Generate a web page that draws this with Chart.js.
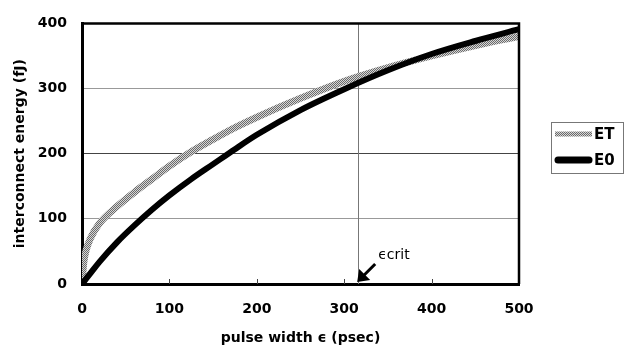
<!DOCTYPE html>
<html lang="en">
<head>
    <meta charset="UTF-8">
    <title>interconnect energy vs pulse width</title>
    <script src="https://cdn.jsdelivr.net/npm/chart.js@4"></script>
    <style>
        html, body { margin: 0; padding: 0; background: #fff; }
    </style>
</head>
<body>
    <canvas id="chartEnergy" width="632" height="352"></canvas>
    <script>
        // valeurs
        const pulseWidth = [0, 2, 5, 10, 20, 40, 60, 80, 100, 125, 150, 175, 200, 250, 300, 350, 400, 450, 500];
        const energyET = [0, 33, 53, 71, 93, 119, 141, 161, 181, 203, 222, 240, 256, 285, 311, 332, 350, 366, 380];
        const energyE0 = [0, 3.4, 8.5, 17, 34, 64, 90, 114, 136, 161, 184, 207, 229, 267, 299, 328, 353, 373, 391];
        const seriesNames = ['ET', 'E0'];
        const xTicks = [0, 100, 200, 300, 400, 500];
        const yTicks = [0, 100, 200, 300, 400];
        const critWidth = 316;
        const critLabel = 'ϵcrit';

        const FONT = '"DejaVu Sans", sans-serif';
        const canvas = document.getElementById('chartEnergy');
        const ctx = canvas.getContext('2d');

        // motif gris hachuré pour ET
        const tile = document.createElement('canvas');
        tile.width = 2; tile.height = 2;
        const t = tile.getContext('2d');
        t.fillStyle = '#d6d6d6'; t.fillRect(0, 0, 2, 2);
        t.fillStyle = '#6a6a6a'; t.fillRect(0, 0, 1, 1); t.fillRect(1, 1, 1, 1);
        const grayPattern = ctx.createPattern(tile, 'repeat');

        const toPoints = (ys) => pulseWidth.map((x, i) => ({ x: x, y: ys[i] }));

        const decorations = {
            id: 'decorations',
            beforeDatasetsDraw(chart) {
                const c = chart.ctx, a = chart.chartArea;
                const xs = chart.scales.x;
                c.save();
                // ligne verticale epsilon crit
                const xc = Math.round(xs.getPixelForValue(critWidth)) + 0.5;
                c.strokeStyle = '#777'; c.lineWidth = 1;
                c.beginPath(); c.moveTo(xc, a.top); c.lineTo(xc, a.bottom); c.stroke();
                // petites graduations vers l'intérieur
                c.strokeStyle = '#444';
                xTicks.slice(1, -1).forEach(v => {
                    const px = Math.round(xs.getPixelForValue(v)) + 0.5;
                    c.beginPath(); c.moveTo(px, a.bottom); c.lineTo(px, a.bottom - 5); c.stroke();
                });
                c.restore();
            },
            afterDatasetsDraw(chart) {
                const c = chart.ctx, a = chart.chartArea;
                const xs = chart.scales.x;
                c.save();
                // cadre
                c.strokeStyle = '#000'; c.lineWidth = 2.5;
                c.beginPath();
                c.moveTo(a.left, a.top); c.lineTo(a.right, a.top); c.lineTo(a.right, a.bottom);
                c.stroke();
                // flèche vers epsilon crit
                const tipX = xs.getPixelForValue(critWidth) - 1, tipY = a.bottom - 2;
                const tailX = tipX + 18, tailY = tipY - 18;
                c.strokeStyle = '#000'; c.fillStyle = '#000'; c.lineWidth = 3;
                c.beginPath(); c.moveTo(tailX, tailY); c.lineTo(tipX + 6, tipY - 6); c.stroke();
                c.beginPath();
                c.moveTo(tipX, tipY);
                c.lineTo(tipX + 2, tipY - 13);
                c.lineTo(tipX + 13, tipY - 2);
                c.closePath(); c.fill();
                c.font = '14px ' + FONT;
                c.textBaseline = 'middle'; c.textAlign = 'left';
                c.fillText(critLabel, tipX + 21, tipY - 27);
                // légende
                c.strokeStyle = '#777'; c.lineWidth = 1;
                c.strokeRect(551.5, 122.5, 72, 51);
                const styles = chart.data.datasets;
                [134, 160].forEach((y, i) => {
                    c.strokeStyle = styles[i].borderColor;
                    c.lineWidth = i === 0 ? 5 : 7;
                    c.lineCap = i === 0 ? 'butt' : 'round';
                    c.beginPath(); c.moveTo(i === 0 ? 555 : 558, y); c.lineTo(i === 0 ? 592 : 589, y); c.stroke();
                    c.fillStyle = '#000';
                    c.font = 'bold 15px ' + FONT;
                    c.fillText(seriesNames[i], 594, y + 1);
                });
                c.restore();
            }
        };

        new Chart(ctx, {
            type: 'line',
            data: {
                datasets: [{
                    label: seriesNames[0],
                    data: toPoints(energyET),
                    borderColor: grayPattern,
                    borderWidth: 7,
                    pointRadius: 0,
                    cubicInterpolationMode: 'monotone',
                    order: 2
                }, {
                    label: seriesNames[1],
                    data: toPoints(energyE0),
                    borderColor: '#000',
                    borderWidth: 6,
                    pointRadius: 0,
                    cubicInterpolationMode: 'monotone',
                    order: 1
                }]
            },
            options: {
                responsive: false,
                animation: false,
                devicePixelRatio: 1,
                layout: { padding: { top: 11, right: 113, left: 0, bottom: 0 } },
                plugins: { legend: { display: false }, tooltip: { enabled: false } },
                scales: {
                    x: {
                        type: 'linear', min: 0, max: 500,
                        afterBuildTicks: (s) => { s.ticks = xTicks.map(v => ({ value: v })); },
                        afterFit: (s) => { s.height = 68; },
                        ticks: { color: '#000', padding: 17, maxRotation: 0, font: { family: FONT, size: 14, weight: 'bold' } },
                        grid: { display: false, drawTicks: false },
                        border: { color: '#000', width: 3 },
                        title: {
                            display: true, text: 'pulse width ϵ (psec)', color: '#000',
                            font: { family: FONT, size: 14, weight: 'bold' },
                            padding: { top: 0, bottom: 5 }
                        }
                    },
                    y: {
                        type: 'linear', min: 0, max: 400,
                        afterBuildTicks: (s) => { s.ticks = yTicks.map(v => ({ value: v })); },
                        afterFit: (s) => { s.width = 82; },
                        ticks: { color: '#000', padding: 15, font: { family: FONT, size: 14, weight: 'bold' } },
                        grid: {
                            drawTicks: false,
                            color: (c) => (c.tick.value === 0 || c.tick.value === 400) ? 'rgba(0,0,0,0)' : (c.tick.value === 200 ? '#444' : '#999')
                        },
                        border: { color: '#000', width: 3 },
                        title: {
                            display: true, text: 'interconnect energy (fJ)', color: '#000',
                            font: { family: FONT, size: 14, weight: 'bold' },
                            padding: { top: 12, bottom: 0 }
                        }
                    }
                }
            },
            plugins: [decorations]
        });
    </script>
</body>
</html>
